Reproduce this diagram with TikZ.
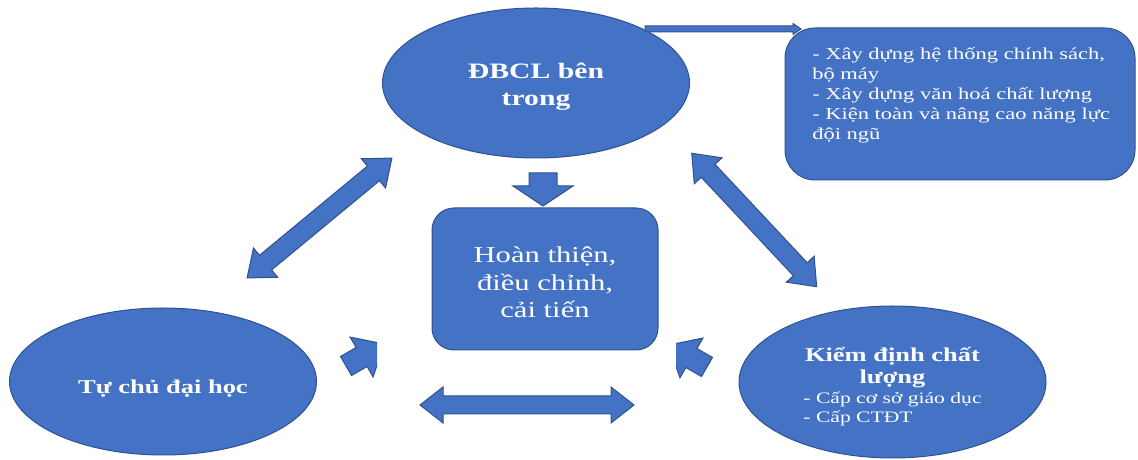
\documentclass[tikz,border=0pt]{standalone}
\usepackage{fontspec}
\setmainfont{Liberation Serif}[FakeStretch=1.35]
\usepackage{tikz}
\usetikzlibrary{shapes.geometric,positioning}
\definecolor{boxblue}{HTML}{4472C4}
\definecolor{edgeblue}{HTML}{2F528F}

% block arrows: tail/centre, angle, length, shaft half width, head half width, head length
\newcommand{\sglarrow}[6]{%
  \draw[blockarrow, shift={#1}, rotate=#2]
    (0,#4) -- (#3-#6,#4) -- (#3-#6,#5) -- (#3,0) -- (#3-#6,-#5) -- (#3-#6,-#4) -- (0,-#4) -- cycle;}
\newcommand{\dblarrow}[6]{%
  \draw[blockarrow, shift={#1}, rotate=#2]
    (-#3,0) -- (-#3+#6,#5) -- (-#3+#6,#4) -- (#3-#6,#4) -- (#3-#6,#5) -- (#3,0)
    -- (#3-#6,-#5) -- (#3-#6,-#4) -- (-#3+#6,-#4) -- (-#3+#6,-#5) -- cycle;}

\begin{document}
\begin{tikzpicture}[
  x=0.75pt, y=0.75pt,
  oval/.style={
    ellipse, draw=edgeblue, fill=boxblue, line width=0.75pt, inner sep=0pt,
    minimum width=230.25pt
  },
  panel/.style={
    rectangle, draw=edgeblue, fill=boxblue, line width=0.75pt
  },
  label text/.style={text=white, align=center, inner sep=0pt},
  blockarrow/.style={fill=boxblue, draw=edgeblue, line width=0.75pt}
]
\useasboundingbox (0,0) rectangle (1138,460);

\node[oval, minimum height=112.5pt] (inner) at (536,377) {};
\node[label text, font=\bfseries\fontsize{16.5}{20}\selectfont] (inner-text)
  at ([yshift=-3pt]inner.center) {ĐBCL bên\\trong};

\node[oval, minimum height=110.25pt] (autonomy) at (163,78.5) {};
\node[label text, font=\bfseries\fontsize{14.7}{17}\selectfont] (autonomy-text)
  at ([yshift=-5pt]autonomy.center) {Tự chủ đại học};

\node[oval, minimum height=114pt] (accred) at (892.5,78) {};
\node[label text, font=\fontsize{14.7}{16.8}\selectfont] (accred-text)
  at ([yshift=-4pt]accred.center) {
  \textbf{Kiểm định chất}\\\textbf{lượng}\\[1pt]
  {\fontsize{12}{13.8}\selectfont\begin{tabular}{@{}l@{}}- Cấp cơ sở giáo dục\\- Cấp CTĐT\end{tabular}}
};

\node[panel, minimum width=169.5pt, minimum height=106.5pt, rounded corners=16.5pt] (improve) at (545,181) {};
\node[label text, font=\fontsize{17}{20.6}\selectfont] (improve-text)
  at ([yshift=-2.5pt]improve.center) {\lineskiplimit=-20pt\relax Hoàn thiện,\\điều chỉnh,\\cải tiến};

\node[panel, minimum width=262.5pt, minimum height=114pt, rounded corners=22.5pt] (tasks) at (960,356) {};
\node[label text, anchor=north west, align=left, font=\fontsize{12.5}{15}\selectfont] (tasklist)
  at (812,413) {
  - Xây dựng hệ thống chính sách,\\bộ máy\\- Xây dựng văn hoá chất lượng\\
  - Kiện toàn và nâng cao năng lực\\đội ngũ
};

% arrows
\sglarrow{(645,431)}{0}{156}{3}{5.5}{8}
\sglarrow{(543,287)}{-90}{33}{14}{30}{20}
\dblarrow{(319.5,242)}{39.6}{94}{9.5}{19}{24}
\dblarrow{(754.2,240)}{-46.9}{91.4}{9.5}{19}{24}
\dblarrow{(527,55)}{0}{107}{9}{18}{23}
\begin{scope}
  \clip (0,0) rectangle (377,460);
  \sglarrow{(346,94)}{30}{44}{11}{23}{26}
\end{scope}
\begin{scope}
  \clip (676,0) rectangle (1138,460);
  \sglarrow{(707,93)}{150}{44}{11}{23}{26}
\end{scope}

\end{tikzpicture}
\end{document}
